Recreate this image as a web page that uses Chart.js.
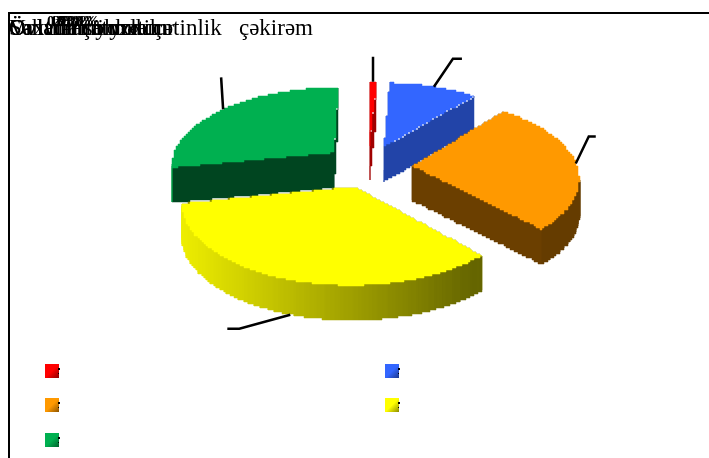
<!DOCTYPE html>
<html><head><meta charset="utf-8">
<style>html,body{margin:0;padding:0;background:#fff;overflow:hidden}canvas{display:block}</style>
<script src="https://cdn.jsdelivr.net/npm/chart.js@4"></script></head>
<body><canvas id="c" width="709" height="458"></canvas>
<script>
const categories=["Övladım yoxdur","Onlarla söhbətim","Səhvlərim yoxdur","Vaxtım çatmır","Övladlarımızla çətinlik   çəkirəm"];
const shares=[0.9,10.2,27.0,33.8,28.1];
const shareLabels=["0,9%","10,2%","27,0%","33,8%","28,1%"];
const topColors=["#ff0000","#3366ff","#ff9900","#ffff00","#00b050"];
const cutColors=["#a00000","#2244a8","#6b3f00","#8a8a00","#004520"];
const drawOrder=[4,0,1,2,3];
const leaderBends=[[0,-25,0],[19,-28,9],[13,-27,7],[-51,14,-12],[-2,-32,0]];
const leaderDepth=[0,0,0,1,0];
const swatchCols=[45,385],swatchRows=[364,398,433];
const CX=368,CY=166,RX=164,RY=78,P=0.14,DEPTH=35,GRID=2;

function proj(mx,my){const S=1/(1-P*my);return [CX+RX*mx*S,CY+RY*my*S];}
function shade(hex,f){const n=parseInt(hex.slice(1),16);
  return `rgb(${Math.round((n>>16&255)*f)},${Math.round((n>>8&255)*f)},${Math.round((n&255)*f)})`;}
function densify(pts){const out=[];
  pts.forEach((p,i)=>{const q=pts[(i+1)%pts.length],n=Math.max(1,Math.ceil(Math.hypot(q[0]-p[0],q[1]-p[1])/GRID));
    for(let k=0;k<n;k++)out.push([p[0]+(q[0]-p[0])*k/n,p[1]+(q[1]-p[1])*k/n]);});
  return out;}
function stair(pts){const out=[];let prev=null;
  for(const p of densify(pts)){const q=[Math.round(p[0]/GRID)*GRID,Math.round(p[1]/GRID)*GRID];
    if(prev&&prev[0]!==q[0]&&prev[1]!==q[1])out.push([q[0],prev[1]]);
    out.push(q);prev=q;}
  return out;}
function fillPoly(ctx,pts,col){ctx.fillStyle=col;ctx.strokeStyle=col;ctx.lineWidth=.5;ctx.beginPath();
  pts.forEach((p,i)=>i?ctx.lineTo(p[0],p[1]):ctx.moveTo(p[0],p[1]));ctx.closePath();ctx.fill();ctx.stroke();}
function down(p){return [p[0],p[1]+DEPTH];}

const pie3d={id:'pie3d',
 beforeDatasetsDraw(chart){
  const layer=document.createElement('canvas');layer.width=chart.width;layer.height=chart.height;
  const ctx=layer.getContext('2d'),arcs=chart.getDatasetMeta(0).data;
  const geom=arcs.map(a=>{
    const g=a.getProps(['startAngle','endAngle','outerRadius']);
    const mid=(g.startAngle+g.endAngle)/2,e=a.options.offset/g.outerRadius;
    const ox=Math.cos(mid)*e,oy=Math.sin(mid)*e;
    const n=Math.max(2,Math.ceil((g.endAngle-g.startAngle)*180/Math.PI));
    const rim=[];
    for(let i=0;i<=n;i++){const t=g.startAngle+(g.endAngle-g.startAngle)*i/n;
      rim.push(proj(ox+Math.cos(t),oy+Math.sin(t)));}
    return {apex:proj(ox,oy),rim,anchor:proj(ox+Math.cos(mid),oy+Math.sin(mid))};
  });
  for(const i of drawOrder){
    const {apex,rim}=geom[i],a=rim[0],b=rim[rim.length-1];
    const cuts=[a,b].sort((u,v)=>u[1]-v[1]);
    for(const c of cuts) fillPoly(ctx,stair([apex,c,down(c),down(apex)]),cutColors[i]);
    for(let k=0;k<rim.length-1;k++){
      const u=rim[k],v=rim[k+1];
      if(v[0]>=u[0])continue;
      const f=Math.max(.4,Math.min(.93,.93-(.55)*(v[0]-182)/300));
      fillPoly(ctx,stair([u,v,down(v),down(u)]),shade(topColors[i],f));
    }
    fillPoly(ctx,stair([apex,...rim]),topColors[i]);
  }
  ctx.strokeStyle='#000';ctx.lineWidth=2.5;
  geom.forEach((g,i)=>{
    const p=leaderDepth[i]?down(g.anchor):g.anchor,[dx,dy,tail]=leaderBends[i];
    ctx.beginPath();ctx.moveTo(p[0],p[1]);ctx.lineTo(p[0]+dx,p[1]+dy);
    ctx.lineTo(p[0]+dx+tail,p[1]+dy);ctx.stroke();
  });
  chart.ctx.save();chart.ctx.filter='blur(0.5px)';chart.ctx.drawImage(layer,0,0);chart.ctx.restore();
  return false;
 },
 afterDraw(chart){
  const ctx=chart.ctx;
  ctx.fillStyle='#000';ctx.fillRect(8,12,701,2);ctx.fillRect(8,12,2,446);
  ctx.textBaseline='alphabetic';ctx.textAlign='left';
  ctx.font='23px "Liberation Serif"';
  categories.forEach(t=>ctx.fillText(t,9,35));
  ctx.font='bold 15px "Liberation Serif"';
  shareLabels.forEach((t,i)=>ctx.fillText(t,47+i*3,26));
  categories.forEach((t,i)=>{
    const x=swatchCols[i%2],y=swatchRows[Math.floor(i/2)];
    const g=ctx.createLinearGradient(x,y,x+14,y+14);
    g.addColorStop(0,topColors[i]);g.addColorStop(.5,topColors[i]);g.addColorStop(1,shade(topColors[i],.55));
    ctx.fillStyle=g;ctx.fillRect(x,y,14,14);
    ctx.fillStyle='#000';ctx.fillRect(x+13,y+4,2,2);ctx.fillRect(x+13,y+9,1,1);
  });
 }};
new Chart(document.getElementById('c'),{type:'pie',
 data:{labels:categories,datasets:[{data:shares,backgroundColor:topColors,offset:55,borderWidth:0}]},
 options:{responsive:false,animation:false,plugins:{legend:{display:false},tooltip:{enabled:false},title:{display:false}}},
 plugins:[pie3d]});
</script></body></html>
